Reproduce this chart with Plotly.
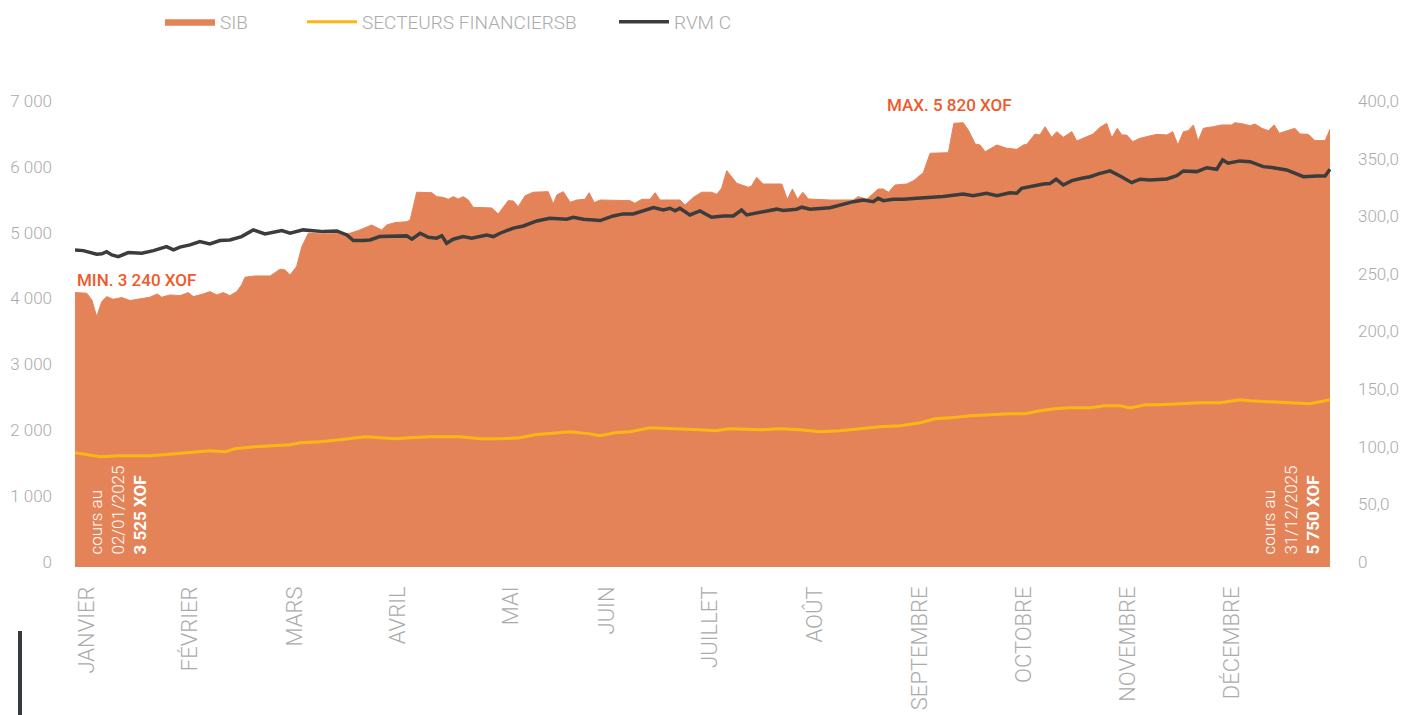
import plotly.graph_objects as go

# ---------------- data (day of year) ----------------
sib_days = [0, 3.4, 4.9, 6.3, 7.8, 9.2, 11.1, 13.6, 16.0, 18.9, 21.8, 23.9, 25.2, 27.6, 30.5, 32.9,
            34.4, 37.3, 39.2, 41.2, 43.1, 45.0, 47.0, 48.4, 49.4, 52.3, 56.7, 59.6, 61.0, 62.5, 64.4,
            65.9, 67.8, 72.2, 76.1, 79.9, 82.8, 86.2, 89.1, 90.6, 93.0, 96.4, 97.4, 99.3, 103.7,
            105.1, 107.0, 108.5, 109.9, 111.4, 112.8, 114.3, 115.7, 121.1, 123.0, 125.9, 127.4,
            128.8, 130.8, 133.2, 137.5, 139.0, 140.0, 141.9, 143.9, 145.8, 148.2, 149.4, 150.9,
            152.6, 161.3, 162.7, 164.7, 167.1, 168.6, 170.0, 175.8, 177.3, 179.7, 182.1, 185.0,
            186.5, 187.9, 189.4, 192.3, 193.7, 195.7, 196.6, 198.1, 200.0, 205.4, 207.0, 208.5,
            210.0, 211.5, 213.1, 219.4, 226.2, 227.6, 230.1, 233.4, 234.9, 236.4, 238.3, 241.7,
            243.7, 246.5, 248.5, 253.8, 255.4, 258.1, 259.6, 261.6, 263.0, 264.5, 267.9, 270.8,
            273.7, 275.6, 276.6, 279.0, 280.4, 281.9, 283.8, 285.3, 287.2, 289.7, 291.1, 293.5,
            295.9, 297.9, 299.8, 301.3, 302.9, 304.2, 305.6, 307.4, 309.5, 311.4, 314.4, 317.3,
            319.0, 320.5, 322.1, 323.5, 325.0, 326.4, 327.9, 330.8, 333.2, 336.1, 337.1, 339.5,
            341.5, 342.9, 344.9, 346.8, 348.5, 350.0, 352.1, 354.5, 356.0, 358.4, 360.3, 363.3, 364.7]
sib_values = [4089, 4080, 3978, 3725, 3952, 4028, 3988, 4013, 3968, 3988, 4019, 4069, 4019, 4054, 4043, 4089,
              4028, 4069, 4104, 4054, 4089, 4043, 4104, 4206, 4322, 4342, 4342, 4444, 4434, 4358, 4484,
              4787, 4990, 4980, 4990, 4990, 5041, 5117, 5041, 5117, 5152, 5167, 5193, 5614, 5607,
              5547, 5536, 5506, 5547, 5512, 5547, 5496, 5385, 5375, 5284, 5486, 5481,
              5395, 5562, 5614, 5623, 5436, 5572, 5623, 5461, 5496, 5506, 5607, 5456,
              5496, 5486, 5446, 5506, 5506, 5607, 5496, 5496, 5420, 5536, 5614, 5614,
              5582, 5673, 5942, 5750, 5724, 5689, 5709, 5841, 5739, 5739, 5506, 5663,
              5506, 5614, 5512, 5496, 5496, 5547, 5506, 5663, 5663, 5614, 5724, 5739,
              5790, 5911, 6206, 6215, 6661, 6670, 6559, 6347, 6332, 6230, 6332, 6281,
              6266, 6332, 6342, 6499, 6484, 6610, 6449, 6534, 6449, 6534, 6393, 6443,
              6499, 6600, 6661, 6443, 6585, 6484, 6484, 6383, 6433, 6458, 6494, 6484,
              6534, 6332, 6534, 6549, 6636, 6393, 6585, 6610, 6636, 6636, 6670, 6651,
              6625, 6651, 6585, 6549, 6636, 6509, 6549, 6585, 6499, 6494, 6398, 6398, 6570]

sect_days = [0, 4.4, 7.3, 13.1, 21.8, 29.1, 36.3, 39.2, 43.6, 46.5, 52.3, 56.7, 62.5, 65.4, 71.2, 77.0,
             81.4, 84.3, 88.6, 93.0, 97.4, 103.2, 111.9, 117.7, 123.5, 129.3, 133.7, 139.5, 143.9,
             149.7, 152.6, 156.9, 161.3, 167.1, 175.8, 181.6, 186.0, 190.3, 199.1, 204.9, 210.7,
             216.5, 222.3, 228.1, 233.9, 239.8, 245.6, 249.9, 254.3, 260.1, 265.9, 271.7, 276.1,
             280.4, 284.8, 289.2, 295.0, 299.3, 303.7, 306.6, 311.0, 315.3, 321.1, 326.9, 332.7,
             338.5, 341.5, 347.3, 353.1, 358.9, 364.7]
sect_values = [94.6, 92.8, 91.1, 92.0, 92.0, 93.7, 95.4, 96.3, 95.4, 98.1, 99.8, 100.7, 101.5, 103.3, 104.1, 105.9,
               107.6, 108.5, 107.6, 106.7, 107.6, 108.5, 108.5, 106.7, 106.7, 107.6, 110.2, 111.9, 112.8,
               111.0, 109.3, 111.9, 112.8, 116.3, 115.4, 114.5, 113.7, 115.4, 114.5, 115.4, 114.5,
               112.8, 113.7, 115.4, 117.1, 118.0, 120.6, 124.1, 124.9, 126.7, 127.6, 128.4, 128.4,
               131.0, 132.8, 133.6, 133.6, 135.4, 135.4, 133.6, 136.2, 136.2, 137.1, 138.0, 138.0,
               140.6, 139.7, 138.8, 138.0, 137.1, 140.6]

rvm_days = [0, 2.4, 6.3, 7.8, 9.2, 10.7, 12.6, 15.5, 19.4, 22.8, 26.6, 28.6, 30.5, 33.4, 36.3, 39.2,
            42.1, 45.0, 48.4, 51.8, 55.2, 60.1, 62.5, 66.3, 72.2, 76.1, 79.0, 80.9, 83.8, 85.7, 88.6,
            92.5, 96.4, 97.9, 100.3, 102.7, 105.1, 106.6, 108.0, 109.9, 112.8, 115.3, 117.7, 119.6,
            121.6, 123.5, 127.4, 130.3, 134.2, 138.0, 142.9, 144.8, 147.7, 152.6, 156.4, 159.3,
            162.2, 166.1, 168.1, 171.0, 172.9, 174.4, 175.8, 178.7, 181.6, 185.0, 188.4, 191.3,
            193.7, 195.2, 200.0, 203.9, 205.8, 209.7, 211.2, 213.6, 219.4, 223.3, 226.2, 229.1,
            232.0, 233.4, 234.9, 237.8, 240.7, 244.6, 252.3, 258.1, 261.0, 264.9, 267.9, 271.7,
            273.7, 275.1, 277.5, 281.4, 283.3, 285.1, 287.2, 289.7, 292.6, 295.0, 297.4, 300.8,
            303.7, 307.1, 309.5, 312.4, 317.3, 320.2, 322.1, 326.0, 328.9, 331.8, 333.5, 335.1,
            338.5, 341.5, 345.3, 348.2, 352.1, 354.1, 357.0, 360.9, 363.3, 364.7]
rvm_values = [270.7, 270.1, 267.0, 267.3, 269.2, 266.4, 264.9, 268.4, 267.9, 270.1, 273.6, 270.7, 273.1, 275.1, 278.0, 276.0,
              278.8, 279.4, 282.3, 288.1, 284.6, 287.5, 285.2, 288.1, 286.6, 287.2, 283.7, 278.8, 278.8, 279.4, 282.3,
              282.9, 282.9, 280.0, 285.2, 281.7, 280.9, 283.1, 276.5, 280.0, 282.3, 280.9, 282.3, 283.7,
              282.3, 285.2, 289.6, 291.5, 295.9, 298.2, 297.4, 299.1, 297.4, 296.2, 300.2, 302.0,
              302.0, 306.1, 307.4, 305.4, 306.9, 304.6, 306.9, 301.1, 304.6, 299.1, 300.2, 300.2,
              305.4, 301.1, 304.0, 306.1, 304.9, 306.1, 307.8, 306.1, 307.4, 310.6, 312.6, 314.1,
              312.6, 315.6, 313.5, 314.7, 314.7, 315.6, 317.0, 319.3, 317.8, 319.9, 317.8, 320.4,
              319.9, 324.2, 325.7, 328.0, 328.3, 332.1, 327.1, 330.9, 332.9, 334.3, 336.7, 339.3,
              334.9, 329.1, 332.1, 331.5, 332.3, 335.2, 339.3, 338.7, 342.1, 340.7, 348.8, 346.0,
              348.0, 347.3, 343.0, 342.1, 340.1, 337.8, 334.3, 334.9, 334.9, 340.7]

month_ticks = [3.5, 33.4, 63.9, 93.9, 126.7, 154.6, 184.5, 215.1, 245.6, 275.8, 306.0, 336.2]
month_labels = ["JANVIER", "FÉVRIER", "MARS", "AVRIL", "MAI", "JUIN", "JUILLET", "AOÛT",
                "SEPTEMBRE", "OCTOBRE", "NOVEMBRE", "DÉCEMBRE"]
left_ticks = [0, 1000, 2000, 3000, 4000, 5000, 6000, 7000]
left_labels = ["0", "1 000", "2 000", "3 000", "4 000", "5 000", "6 000", "7 000"]
right_ticks = [0, 50, 100, 150, 200, 250, 300, 350, 400]
right_labels = ["0", "50,0", "100,0", "150,0", "200,0", "250,0", "300,0", "350,0", "400,0"]

# ---------------- styling ----------------
FONT = "Roboto"
GREY = "#ABABAB"
ORANGE = "#E58358"
YELLOW = "#FBB614"
DARK = "#3C3C3C"
RED = "#EE5A2C"

OFF = 8  # page offset of the figure in the browser (body margin)
W, H = 1418, 715
# plot area in page pixels: x 75..1331, y 101..567
L = 75 - OFF
T = 101 - OFF
R = W - (1331 - OFF)
B = H - (567 - OFF)
PW, PH = W - L - R, H - T - B


def px(xp):
    """page x pixel -> paper coordinate"""
    return (xp - OFF - L) / PW


def py(yp):
    """page y pixel -> paper coordinate"""
    return (H - B - (yp - OFF)) / PH


fig = go.Figure()
fig.add_trace(go.Scatter(x=sib_days, y=sib_values, name="SIB", mode="lines",
                         fill="tozeroy", fillcolor=ORANGE,
                         line=dict(color=ORANGE, width=1), yaxis="y", legend="legend"))
fig.add_trace(go.Scatter(x=sect_days, y=sect_values, name="SECTEURS FINANCIERSB", mode="lines",
                         line=dict(color=YELLOW, width=3), yaxis="y2", legend="legend2"))
fig.add_trace(go.Scatter(x=rvm_days, y=rvm_values, name="RVM C", mode="lines",
                         line=dict(color=DARK, width=3.5), yaxis="y2", legend="legend3"))

ymin = -80
legend_common = dict(orientation="h", y=py(22), xanchor="left", yanchor="middle",
                     font=dict(size=19, color=GREY, family=FONT, weight=300),
                     itemwidth=50, bgcolor="rgba(0,0,0,0)")

fig.update_layout(
    width=W, height=H,
    margin=dict(l=L, r=R, t=T, b=B, autoexpand=False),
    paper_bgcolor="white", plot_bgcolor="white",
    font=dict(family=FONT, color=GREY),
    showlegend=True,
    hovermode=False,
    legend=dict(x=px(160), **legend_common),
    legend2=dict(x=px(302), **legend_common),
    legend3=dict(x=px(614), **legend_common),
    xaxis=dict(range=[0, 365], tickmode="array", tickvals=month_ticks, ticktext=month_labels,
               tickangle=-90, showgrid=False, zeroline=False, showline=False, ticks="",
               ticklabelstandoff=14, automargin=False,
               tickfont=dict(size=22, color=GREY, family=FONT, weight=300)),
    yaxis=dict(range=[ymin, 7000], tickmode="array", tickvals=left_ticks, ticktext=left_labels,
               showgrid=False, zeroline=False, showline=False, ticks="",
               ticklabelstandoff=22, automargin=False,
               tickfont=dict(size=17, color=GREY, family=FONT, weight=300)),
    yaxis2=dict(range=[ymin / 17.5, 400], overlaying="y", side="right",
                tickmode="array", tickvals=right_ticks, ticktext=right_labels,
                showgrid=False, zeroline=False, showline=False, ticks="",
                ticklabelstandoff=26, automargin=False,
                tickfont=dict(size=17, color=GREY, family=FONT, weight=300)),
)

# extend the SIB area down to the bottom of the plot area
fig.add_shape(type="rect", xref="x", yref="y", x0=sib_days[0], x1=sib_days[-1],
              y0=ymin, y1=min(sib_values),
              fillcolor=ORANGE, line=dict(width=0), layer="below")

fig.add_annotation(text="MIN. 3 240 XOF", xref="paper", yref="paper", x=px(75), y=py(280),
                   xanchor="left", yanchor="middle", showarrow=False,
                   font=dict(size=17, color=RED, family=FONT, weight=500))
fig.add_annotation(text="MAX. 5 820 XOF", xref="paper", yref="paper", x=px(885),
                   y=py(105), xanchor="left", yanchor="middle", showarrow=False,
                   font=dict(size=17, color=RED, family=FONT, weight=500))
fig.add_annotation(text="cours au<br>02/01/2025<br><b>3 525 XOF</b>", xref="paper", yref="paper",
                   x=px(117), y=py(557), xanchor="center", yanchor="bottom",
                   textangle=-90, align="left", showarrow=False,
                   font=dict(size=17, color="white", family=FONT, weight=300))
fig.add_annotation(text="cours au<br>31/12/2025<br><b>5 750 XOF</b>", xref="paper", yref="paper",
                   x=px(1290), y=py(557), xanchor="center", yanchor="bottom",
                   textangle=-90, align="left", showarrow=False,
                   font=dict(size=17, color="white", family=FONT, weight=300))

fig.add_shape(type="line", xref="paper", yref="paper",
              x0=px(20), x1=px(20), y0=py(716), y1=py(631),
              line=dict(color="#343A40", width=4))

fig.write_html("out.html")
